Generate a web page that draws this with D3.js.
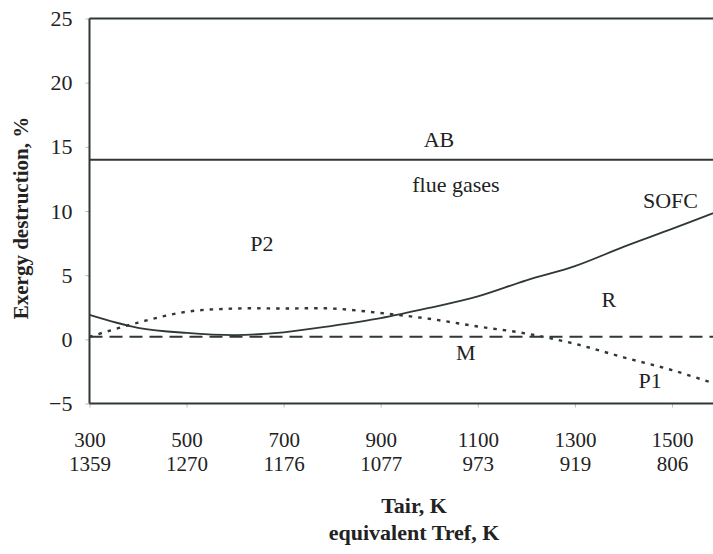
<!DOCTYPE html>
<html>
<head>
<meta charset="utf-8">
<script src="https://cdn.jsdelivr.net/npm/d3@7"></script>
<style>
  html, body { margin: 0; padding: 0; background: #fff; }
  svg { display: block; }
  text { font-family: "Liberation Serif", "Times New Roman", Times, serif; fill: #222; }
</style>
</head>
<body>
<script>
// Air temperature grid (K) and the matching reference temperatures printed under each tick
const tair = [300, 400, 500, 600, 700, 800, 900, 1000, 1100, 1200, 1300, 1400, 1500, 1600];
const tickTair = [300, 500, 700, 900, 1100, 1300, 1500];
const tickTref = [1359, 1270, 1176, 1077, 973, 919, 806];
const yTicks = [-5, 0, 5, 10, 15, 20, 25];

// Boundary curves between the exergy-destruction bands (%)
const sofc = [1.9, 0.9, 0.5, 0.33, 0.55, 1.05, 1.65, 2.45, 3.35, 4.6, 5.7, 7.2, 8.6, 10.05];
const p1 = [0.2, 1.3, 2.15, 2.4, 2.4, 2.4, 2.05, 1.6, 1.0, 0.45, -0.35, -1.4, -2.4, -3.6];
const mLevel = [0.2, 0.2];
const abLevel = [14, 14];
const levelT = [300, 1600];

// Band labels placed at (Tair, value)
const bandLabels = [
  { text: "AB", t: 1020, v: 14.95 },
  { text: "flue gases", t: 1055, v: 11.5 },
  { text: "SOFC", t: 1497, v: 10.2 },
  { text: "P2", t: 655, v: 6.9 },
  { text: "R", t: 1370, v: 2.55 },
  { text: "M", t: 1075, v: -1.6 },
  { text: "P1", t: 1455, v: -3.8 }
];

const W = 713, H = 554;
const x = d3.scaleLinear().domain([300, 1600]).range([89.5, 720.5]);
const y = d3.scaleLinear().domain([-5, 25]).range([403.5, 18.5]);
const ink = "#2f3737";

const svg = d3.select("body").append("svg").attr("width", W).attr("height", H);

svg.append("defs").append("clipPath").attr("id", "plot")
  .append("rect").attr("x", 89.5).attr("y", 10).attr("width", W - 89.5).attr("height", 400);

// Axes
const yAxis = d3.axisLeft(y).tickValues(yTicks).tickSize(4).tickPadding(13).tickFormat(d3.format("d"));
const gy = svg.append("g").attr("transform", "translate(89.5,0)").call(yAxis);
gy.select(".domain").remove();
gy.selectAll(".tick line").attr("stroke", "#bbb");
gy.selectAll(".tick text").style("font-size", "22px").attr("fill", "#222");

// Two-row tick labels: Tair on top, equivalent Tref below
const xAxis = d3.axisBottom(x).tickValues(tickTair).tickSize(4).tickFormat("");
const gx = svg.append("g").attr("transform", "translate(0,403.5)").call(xAxis);
gx.select(".domain").remove();
gx.selectAll(".tick line").attr("stroke", "#bbb");
gx.selectAll(".tick").append("text")
  .attr("text-anchor", "middle").style("font-size", "21px")
  .attr("y", 43).text(d => d);
gx.selectAll(".tick").append("text")
  .attr("text-anchor", "middle").style("font-size", "21px")
  .attr("y", 67.5).text((d, i) => tickTref[i]);

// Frame: left, top and bottom edges
const frame = svg.append("g").attr("stroke", ink).attr("stroke-width", 2).attr("fill", "none");
frame.append("line").attr("x1", x(300)).attr("x2", x(300)).attr("y1", y(25)).attr("y2", y(-5));
frame.append("line").attr("x1", x(300)).attr("x2", W).attr("y1", y(25)).attr("y2", y(25));
frame.append("line").attr("x1", x(300)).attr("x2", W).attr("y1", y(-5)).attr("y2", y(-5));

const plot = svg.append("g").attr("clip-path", "url(#plot)");
const line = d3.line().x(d => x(d[0])).y(d => y(d[1]));
const smooth = d3.line().x(d => x(d[0])).y(d => y(d[1])).curve(d3.curveCatmullRom.alpha(0.5));

plot.append("path").datum(levelT.map((t, i) => [t, abLevel[i]]))
  .attr("d", line).attr("fill", "none").attr("stroke", ink).attr("stroke-width", 2);

plot.append("path").datum(levelT.map((t, i) => [t, mLevel[i]]))
  .attr("d", line).attr("fill", "none").attr("stroke", ink).attr("stroke-width", 2)
  .attr("stroke-dasharray", "13,7");

plot.append("path").datum(tair.map((t, i) => [t, p1[i]]))
  .attr("d", smooth).attr("fill", "none").attr("stroke", ink).attr("stroke-width", 2.4)
  .attr("stroke-dasharray", "3.5,6");

plot.append("path").datum(tair.map((t, i) => [t, sofc[i]]))
  .attr("d", smooth).attr("fill", "none").attr("stroke", ink).attr("stroke-width", 1.8);

// Band labels
svg.append("g").selectAll("text").data(bandLabels).join("text")
  .attr("x", d => x(d.t)).attr("y", d => y(d.v))
  .attr("text-anchor", "middle").style("font-size", "22px")
  .text(d => d.text);

// Axis titles
svg.append("text").attr("transform", "translate(28,218) rotate(-90)")
  .attr("text-anchor", "middle").style("font-size", "21px").style("font-weight", "bold")
  .text("Exergy destruction, %");
svg.append("text").attr("x", 414).attr("y", 513)
  .attr("text-anchor", "middle").style("font-size", "22px").style("font-weight", "bold")
  .text("Tair, K");
svg.append("text").attr("x", 414).attr("y", 540)
  .attr("text-anchor", "middle").style("font-size", "22px").style("font-weight", "bold")
  .text("equivalent Tref, K");
</script>
</body>
</html>
